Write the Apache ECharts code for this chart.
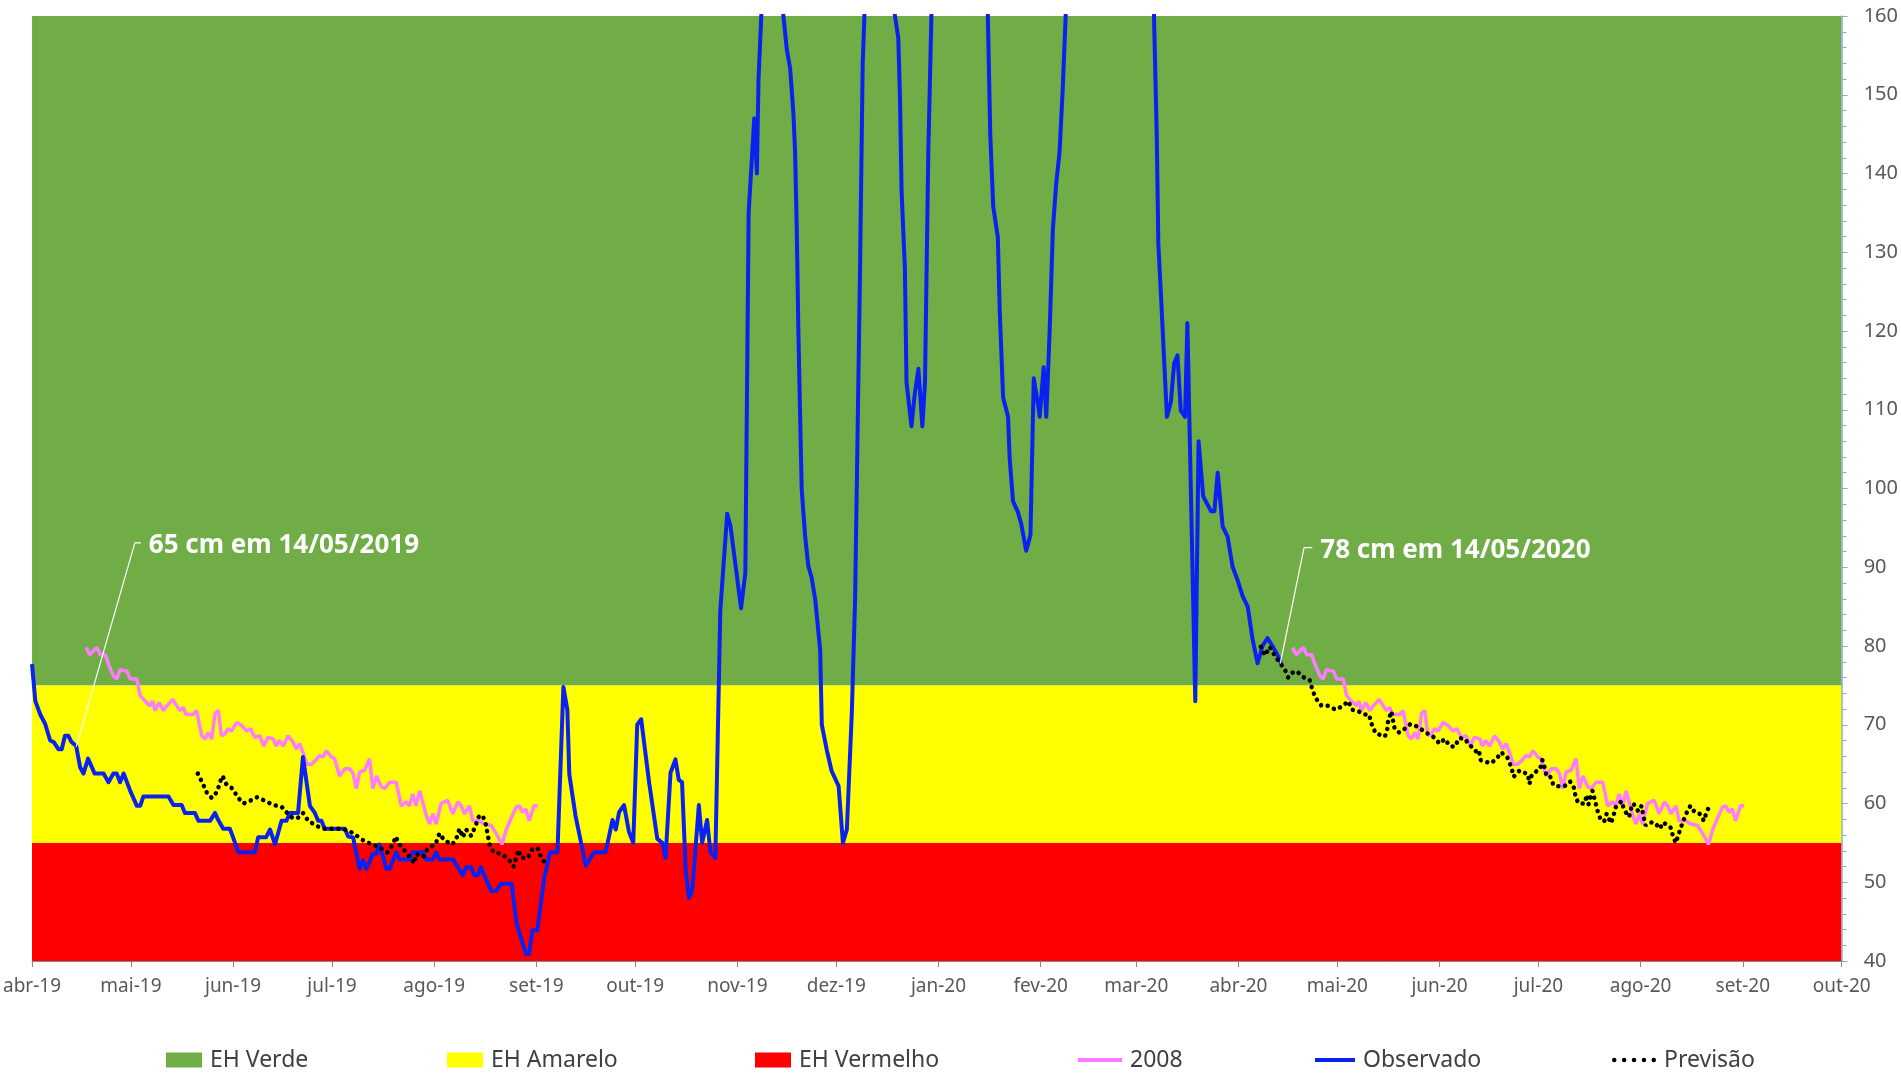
<!DOCTYPE html>
<html><head><meta charset="utf-8">
<script src="https://cdn.jsdelivr.net/npm/echarts@6/dist/echarts.min.js"></script>
<style>html,body{margin:0;padding:0;background:#fff}#c{width:1901px;height:1073px}</style>
</head><body><div id="c"></div>
<script>
// x values are days since 01/04/2019
const monthDays = [0,30,61,91,122,153,183,214,244,275,306,335,366,396,427,457,488,519,549];
const monthLabels = ['abr-19','mai-19','jun-19','jul-19','ago-19','set-19','out-19','nov-19','dez-19','jan-20','fev-20','mar-20','abr-20','mai-20','jun-20','jul-20','ago-20','set-20','out-20'];
const yTicks = {min:40, max:160, step:10, minorStep:2};
const bands = [
  {name:'EH Verde', from:75, to:160, color:'#70AD47'},
  {name:'EH Amarelo', from:55, to:75, color:'#FFFF00'},
  {name:'EH Vermelho', from:40, to:55, color:'#FF0000'}
];
const observado = [[0,77.7],[1,73],[2.5,71.3],[4,70.1],[5.5,68],[6.6,67.8],[8,66.9],[9,66.9],[10,68.6],[11,68.6],[12,67.8],[13.4,67.3],[14.6,64.6],[15.6,63.8],[17,65.7],[19,63.8],[21.7,63.8],[23.2,62.7],[24.7,63.8],[25.7,63.8],[26.7,62.7],[27.8,63.8],[29.8,61.6],[31.8,59.7],[32.8,59.7],[33.8,60.9],[41.4,60.9],[42.9,59.8],[45.4,59.8],[46.4,58.8],[49.4,58.8],[50.5,57.8],[54,57.8],[55.5,58.8],[56.5,57.9],[58,56.8],[60,56.8],[61,55.7],[62.6,53.8],[67.6,53.8],[68.6,55.7],[71,55.7],[72.2,56.7],[73.7,54.8],[75.7,57.8],[77.2,57.8],[78.2,58.8],[80.7,58.8],[82.2,65.9],[84.3,59.7],[85.8,58.8],[86.8,57.8],[87.8,57.8],[88.8,56.8],[94.9,56.8],[95.9,55.8],[97.4,55.7],[99.4,51.7],[100.4,52.8],[101.4,51.7],[103.4,53.6],[104.4,53.6],[105.4,54.8],[107.5,51.7],[108.5,51.7],[110.5,53.8],[111.5,52.9],[114.5,52.9],[115.5,53.8],[118.6,53.8],[119.6,52.9],[121.6,52.9],[122.6,53.8],[123.6,52.9],[127.7,52.9],[129.2,51.9],[130.7,50.9],[131.7,51.9],[133.2,51.9],[134.2,50.9],[135.2,50.9],[136.2,51.9],[137.2,50.9],[139.3,48.9],[140.8,48.9],[142.3,49.8],[145.5,49.8],[147,44.8],[149.8,40.9],[150.8,40.9],[151.8,43.9],[153.3,43.9],[155.4,50.6],[157.2,53.8],[159.4,53.8],[161.2,74.8],[162.4,71.9],[163,63.7],[164.9,58.4],[168,52.1],[170.5,53.8],[174,53.8],[176.1,57.9],[177.1,56.7],[178.1,58.9],[179.6,59.8],[181.1,56.4],[182.4,55],[183.6,70],[184.8,70.7],[187.2,62.7],[189.7,55.5],[191.2,55],[192.2,53.1],[193.7,63.9],[195.2,65.6],[196.2,63],[197.2,62.7],[198.3,51.6],[199.3,48],[200.3,49],[202.3,59.8],[203.3,55],[204.8,57.9],[205.8,53.8],[207.3,53.1],[208.8,84.5],[210.9,96.8],[211.9,95.2],[215.1,84.8],[216.4,89.3],[217.4,135],[219.1,147],[219.9,140],[220.4,152],[222.5,172],[226,168],[229,155.7],[230,153.3],[231,147.5],[231.5,142.6],[232,132.9],[232.5,119.8],[233,109.6],[233.5,99.9],[234.5,94.1],[235.5,90.2],[236.5,88.7],[237.6,85.9],[239.1,79.5],[239.6,70],[241.1,66.8],[242.6,64.1],[244.7,62.2],[246,55],[247.2,56.7],[248.7,71.5],[249.7,85.9],[251.2,128],[252,153.8],[254,178],[258,185],[260,172],[261.8,160],[262.8,157.2],[263.3,149.9],[263.8,137.8],[264.8,128],[265.3,113.5],[266.8,107.9],[267.8,112],[268.9,115.2],[270.1,107.9],[270.9,113.5],[271.9,142.6],[273.5,172],[280,195],[287,188],[289,180],[290.7,145],[291.6,135.8],[293,131.9],[293.6,122.2],[294.6,111.6],[296.1,109.1],[296.6,103.8],[297.6,98.4],[299.1,97],[300.1,95.5],[301.6,92.1],[302.9,94.1],[303.9,114],[305.2,110.6],[305.7,109.1],[306.9,115.4],[307.7,109.1],[308.7,119.8],[309.7,132.9],[310.7,138.7],[311.7,142.6],[312.7,150.8],[315,175],[325,200],[337,190],[339,185],[341.2,145],[341.7,131],[342.5,124.5],[343.5,115.9],[344.3,109.1],[345.5,111],[346.5,115.9],[347.5,116.9],[348.5,109.9],[349.8,109.1],[350.5,121],[352.9,73],[353.9,106],[355.3,99],[357.7,97.1],[358.7,97.1],[359.7,102],[361.2,95.2],[362.7,93.9],[364.2,90.1],[365.7,88.4],[367.3,86.3],[368.8,85],[370.3,80.8],[371.8,77.8],[373.3,80],[374.8,81],[376.3,80],[377.8,78.9],[378.9,77.8]];
// 2008 reference curve: days since 01/04 of each year
const curva2008 = [[16.4,79.8],[17.5,78.9],[18.7,79.4],[19.7,79.8],[20.7,78.9],[22.2,78.9],[23.2,77.7],[24.7,76.2],[25.7,75.8],[26.7,77],[28.8,76.8],[29.8,75.8],[31.8,75.8],[32.8,73.7],[34.3,73],[35.8,72.4],[36.6,73],[37.3,71.8],[38.6,72.8],[39.9,71.8],[40.9,72.4],[42.7,73.2],[43.9,72.4],[44.9,71.8],[45.9,72.2],[46.7,71.3],[48.9,71.3],[49.9,71.8],[51.5,68.6],[52.5,68.2],[53.5,69],[54.5,68.2],[55.5,71.4],[56.5,71.8],[57.5,68.6],[58.5,68.8],[59.5,69.5],[60.5,69.2],[62.1,70.3],[63.6,69.9],[65.1,69.2],[66.3,69.5],[67.6,68.4],[69.1,68.6],[70.3,67.3],[71.6,68.4],[73.2,68.2],[74,67.3],[75,68],[76.2,67.3],[77.7,68.6],[79.2,67.8],[80.2,66.9],[81.2,67.6],[82.2,66.5],[83.3,65],[84.8,65],[85.8,65.4],[87.3,66.1],[88.3,65.9],[89.3,66.7],[90.8,65.9],[91.8,65.7],[93.3,63.5],[94.9,64.4],[96.4,64.4],[97.4,63.8],[98.4,61.9],[99.4,64],[100.9,64.2],[102.4,65.7],[103.4,61.9],[104.5,63.5],[106,62.1],[107,61.9],[108.5,62.7],[110.5,62.7],[112,59.7],[113.5,60.2],[114.5,59.7],[115.5,61.2],[116.5,59.7],[117.6,61.6],[119.6,58.5],[120.6,57.4],[121.6,58.7],[122.6,57.4],[124.1,60],[125.1,60.2],[126.1,60.4],[127.6,58.7],[129.2,60.2],[130.2,59.7],[131.2,58.7],[132.7,59.7],[133.7,57.8],[135.7,57.8],[137.2,57.4],[139.3,57.2],[140.8,56.2],[142.6,54.8],[143.8,56.6],[145.3,58.1],[146.8,59.5],[147.8,59.7],[148.8,58.9],[149.8,59.3],[150.8,57.8],[152.3,59.7],[153.4,59.7]];
const ano2008Inicio = [0, 366]; // 01/04/2019 and 01/04/2020
const previsao2019 = [[50.3,63.8],[51.7,62.6],[53,61.4],[54.5,60.7],[56.2,61.5],[57,62.7],[57.8,63.5],[59,62.4],[60.8,61.9],[62.4,60.8],[64.1,60],[65.9,60.3],[68.3,60.8],[70.9,60.3],[73.2,59.8],[75.7,59.6],[77.4,58.8],[79.2,58.1],[80.7,58.2],[82.2,58.8],[83.8,57.8],[86.1,57.2],[88.3,56.8],[91.3,56.8],[94.1,56.8],[96.7,56.4],[98.9,55.8],[100.9,55.2],[103.2,54.8],[105.2,54.5],[107.8,53.8],[109.5,54.8],[110.3,55.8],[111.5,54.8],[113.3,53.9],[116,52.4],[116.5,53.6],[118.6,53.2],[120.1,54.3],[122.4,54.8],[123.6,56.2],[125.1,55.3],[127.5,54.8],[128.7,55.5],[129.7,56.8],[130.7,55.7],[131.7,56.7],[133.2,55.9],[134.5,57.1],[135.5,58.3],[136.7,58.5],[137.7,57.3],[138.8,54.8],[140,53.8],[142.3,53.6],[144.6,52.9],[146.1,52],[146.8,53],[147.6,54.1],[148.3,53.1],[150.4,53.1],[151.9,54.3],[153.4,54.3],[154.4,53.2],[155.7,52.4]];
const previsao2020 = [[372.8,79.9],[374.1,78.8],[375.5,79.9],[377,78.8],[378.5,77.9],[380.1,77],[381.1,76],[382.3,76.6],[383.7,76.8],[385.4,76.1],[387.6,75.7],[388.4,74.5],[389.4,73.4],[391.2,72.4],[393.2,72.4],[395.5,71.9],[397.7,72.4],[399.3,73],[400.5,71.9],[402.1,71.8],[404,71.3],[405.6,71.3],[406.4,70.1],[407.6,68.9],[409.1,68.7],[410.4,68.5],[411.1,69.3],[411.4,70.5],[412.4,71.7],[412.8,70.7],[413.4,69.5],[414.8,69],[416.5,69.5],[418.2,70.1],[420.7,69.7],[422.7,69],[424.5,68.7],[426,68.1],[427,67.6],[428.6,68.2],[430.1,67.3],[431.6,67.2],[433,68.3],[434.8,68.2],[435.8,67.5],[436.8,67.2],[438.1,66.6],[438.9,66.8],[439.5,65.5],[440.9,65.3],[442.7,65.1],[444.7,65.9],[445.7,66.5],[447.5,65.9],[448.7,64.7],[449.5,63.4],[451.3,64.2],[453.8,63.7],[454.3,62.5],[455,63.7],[457.5,64.4],[458.2,65.5],[458.8,64.7],[459.5,63.5],[460.5,63.5],[461.6,62.3],[462.9,62.2],[464.9,62.2],[466.6,62.8],[467.9,61.9],[468.3,60.7],[469.3,60],[471,60],[471.7,61.1],[472.2,59.9],[473.4,61.6],[474.2,60.3],[475,59],[476,57.8],[477,57.8],[477.7,58.7],[479,57.5],[479.7,58.3],[480.4,59.5],[482.2,60.3],[483,59.2],[484.5,58.3],[485.1,59.3],[485.8,60],[487.3,59],[488.3,59.7],[488.8,58.5],[489.5,57.2],[490.8,57.6],[492.3,57.6],[493.8,56.8],[494.9,57.6],[497.2,56.9],[497.9,55.7],[498.7,55],[499.6,56.2],[500.6,57.4],[501.7,58.6],[503.1,59.7],[504.4,58.9],[505.9,58.7],[507.2,57.8],[508,58.9],[509,59.8]];
const anotacoes = [
  {texto:'65 cm em 14/05/2019', pontos:[[13.4,67.2],[31.2,93.1],[33,93.1]]},
  {texto:'78 cm em 14/05/2020', pontos:[[378.7,77.8],[385.9,92.5],[388.4,92.5]]}
];

const FONT = 'Noto Sans';
const chart = echarts.init(document.getElementById('c'), null, {renderer:'canvas'});

const series = [];
bands.forEach(b => series.push({
  name: b.name, type:'scatter', data: [], itemStyle:{color:b.color, opacity:1}, z:0,
  markArea:{silent:true, z:0, label:{show:false}, itemStyle:{color:b.color, opacity:1, borderWidth:0}, data:[[{yAxis:b.from},{yAxis:b.to}]]}
}));
ano2008Inicio.forEach(off => series.push({
  name:'2008', type:'line', symbol:'none', z:2,
  data: curva2008.map(p => [p[0] + off, p[1]]),
  lineStyle:{color:'#FF7BFF', width:3.5}, itemStyle:{color:'#FF7BFF'}
}));
series.push({
  name:'Observado', type:'line', symbol:'none', z:3, data: observado,
  lineStyle:{color:'#0A22F0', width:4, join:'round'}, itemStyle:{color:'#0A22F0'}
});
[previsao2019, previsao2020].forEach(d => series.push({
  name:'Previsão', type:'line', symbol:'none', z:4, data:d,
  lineStyle:{color:'#000', width:4.5, type:[0.1,6.8], cap:'round'}, itemStyle:{color:'#000'}
}));
anotacoes.forEach(a => series.push({
  name:'_anot', type:'line', z:5, symbol:'circle', symbolSize:0, showSymbol:true,
  lineStyle:{color:'#ffffff', width:1.2}, itemStyle:{color:'#ffffff'},
  data: a.pontos.map((p,i) => i === a.pontos.length - 1 ? {value:p, label:{show:true, position:'right', distance:8, offset:[0,3], formatter:a.texto, color:'#ffffff', fontSize:26, fontWeight:'bold', fontFamily:FONT}} : {value:p})
}));

const dotsIcon = 'path://M0,2.25a2.25,2.25 0 1,0 4.5,0a2.25,2.25 0 1,0 -4.5,0M9.9,2.25a2.25,2.25 0 1,0 4.5,0a2.25,2.25 0 1,0 -4.5,0M19.8,2.25a2.25,2.25 0 1,0 4.5,0a2.25,2.25 0 1,0 -4.5,0M29.7,2.25a2.25,2.25 0 1,0 4.5,0a2.25,2.25 0 1,0 -4.5,0M39.5,2.25a2.25,2.25 0 1,0 4.5,0a2.25,2.25 0 1,0 -4.5,0';
const legendItems = [
  {name:'EH Verde', left:166, icon:'rect', w:36, h:15, color:'#70AD47'},
  {name:'EH Amarelo', left:447, icon:'rect', w:36, h:15, color:'#FFFF00'},
  {name:'EH Vermelho', left:755, icon:'rect', w:36, h:15, color:'#FF0000'},
  {name:'2008', left:1078, icon:'rect', w:44, h:4, color:'#FF7BFF'},
  {name:'Observado', left:1315, icon:'rect', w:40, h:4, color:'#0A22F0'},
  {name:'Previsão', left:1612, icon:dotsIcon, w:44, h:4.5, color:'#000000'}
];
const legends = legendItems.map(l => ({
  left:l.left, top:1046, padding:0, itemGap:0, itemWidth:l.w, itemHeight:l.h,
  selectedMode:false,
  textStyle:{fontSize:23, color:'#404040', fontFamily:FONT, padding:[0,0,0,3], lineHeight:28},
  data:[{name:l.name, icon:l.icon, itemStyle:{color:l.color, opacity:1}}]
}));

const axisBlue = '#8EAADB';
chart.setOption({
  animation:false,
  textStyle:{fontFamily:FONT},
  grid:{left:30, right:57, top:16, bottom:112, containLabel:false},
  legend: legends,
  xAxis:{
    type:'value', min:monthDays[0], max:monthDays[monthDays.length-1],
    axisLine:{show:true, onZero:false, lineStyle:{color:'#868686', width:1}},
    axisTick:{show:true, customValues:monthDays, length:6, lineStyle:{color:'#868686'}},
    axisLabel:{customValues:monthDays, formatter:v => monthLabels[monthDays.indexOf(v)], fontSize:19, color:'#595959', margin:16, fontFamily:FONT},
    splitLine:{show:false}
  },
  yAxis:[{
    type:'value', position:'right', min:yTicks.min, max:yTicks.max, interval:yTicks.step,
    axisLine:{show:true, onZero:false, lineStyle:{color:axisBlue, width:1.5}},
    axisTick:{show:true, length:6, lineStyle:{color:axisBlue}},
    minorTick:{show:false},
    axisLabel:{fontSize:20, color:'#595959', margin:22, fontFamily:FONT},
    splitLine:{show:false}
  },{
    type:'value', position:'right', offset:0, min:yTicks.min, max:yTicks.max, interval:yTicks.minorStep,
    axisLine:{show:false, onZero:false}, axisLabel:{show:false}, splitLine:{show:false},
    axisTick:{show:true, length:5, lineStyle:{color:axisBlue}}
  }],
  series: series
});
</script></body></html>
